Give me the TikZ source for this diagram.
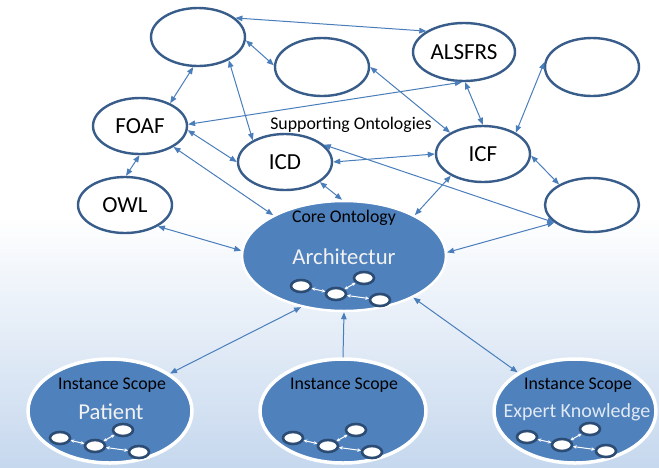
\documentclass[tikz,border=0pt]{standalone}
\usepackage{fontspec}
\setmainfont{Carlito}
\usetikzlibrary{shapes.geometric,arrows.meta,calc}
\definecolor{ontoBorder}{RGB}{56,93,138}
\definecolor{coreFill}{RGB}{79,129,189}
\definecolor{connCol}{RGB}{74,126,187}
\definecolor{miniBorder}{RGB}{44,76,116}
\definecolor{bgBottom}{RGB}{198,216,238}
\definecolor{lightText}{RGB}{242,242,242}
\definecolor{expertText}{RGB}{224,233,244}
\newcommand\mkMininet[3]{%
  \begin{scope}[shift={(#2,#3)}]
    \node[mini] (#1a) at (0,0) {};
    \node[mini] (#1b) at (35,8) {};
    \node[mini] (#1c) at (63,-8) {};
    \node[mini] (#1d) at (79,14) {};
    \draw[miniarr] (#1a) -- (#1b);
    \draw[miniarr] (#1b) -- (#1c);
    \draw[miniarr] (#1b) -- (#1d);
  \end{scope}}
\begin{document}
\begin{tikzpicture}[x=1pt,y=-1pt,
  onto/.style={ellipse, draw=ontoBorder, line width=2.4pt, fill=white, inner sep=0pt, font=\fontsize{23}{26}\selectfont},
  core/.style={ellipse, draw=white, line width=2.5pt, fill=coreFill, inner sep=0pt},
  inst/.style={ellipse, draw=white, line width=3.5pt, fill=coreFill, inner sep=0pt},
  conn/.style={draw=connCol, line width=1pt, {Triangle[length=7pt,width=5.5pt]}-{Triangle[length=7pt,width=5.5pt]}},
  connone/.style={draw=connCol, line width=1pt, -{Triangle[length=7pt,width=5.5pt]}},
  mini/.style={ellipse, draw=miniBorder, line width=2.6pt, fill=white, inner sep=0pt, minimum width=20pt, minimum height=12pt},
  miniarr/.style={draw=white, line width=1pt, {Stealth[length=3.5pt,width=3.5pt]}-{Stealth[length=3.5pt,width=3.5pt]}},
  smalltxt/.style={font=\fontsize{17.8}{20}\selectfont, text=black, inner sep=0pt},
  bigtxt/.style={font=\fontsize{22.7}{26}\selectfont, text=lightText, inner sep=0pt}
]
\useasboundingbox (0,0) rectangle (659,467);
\fill[white] (0,0) rectangle (659,467);
\shade[top color=white, bottom color=bgBottom] (0,215) rectangle (659,467);

% supporting ontologies
\node[onto, minimum width=94pt, minimum height=58pt] (blankA) at (198,37) {};
\node[onto, minimum width=94pt, minimum height=58pt] (blankB) at (322,67) {};
\node[onto, minimum width=102pt, minimum height=58pt] (als) at (464,52) {ALSFRS};
\node[onto, minimum width=94pt, minimum height=58pt] (blankTR) at (592,67) {};
\node[onto, minimum width=94pt, minimum height=56pt] (foaf) at (140,126) {FOAF};
\node[onto, minimum width=94pt, minimum height=56pt] (icd) at (285,162) {ICD};
\node[onto, minimum width=94pt, minimum height=56pt] (icf) at (483,154) {ICF};
\node[onto, minimum width=94pt, minimum height=56pt] (owl) at (125,205) {OWL};
\node[onto, minimum width=94pt, minimum height=54pt] (blankBR) at (592,205) {};

% core and instance scopes
\node[core, minimum width=204pt, minimum height=110pt] (core) at (344,256) {};
\node[inst, minimum width=164pt, minimum height=104pt] (scopeP) at (110,411) {};
\node[inst, minimum width=166pt, minimum height=104pt] (scopeM) at (343,411) {};
\node[inst, minimum width=162pt, minimum height=104pt] (scopeE) at (575,411) {};

% texts
\node[smalltxt] (supp) at (351,125) {Supporting Ontologies};
\node[smalltxt] (coreLbl) at (344,218) {Core Ontology};
\node[bigtxt] (arch) at (344,257) {Architectur};
\node[smalltxt] (lblP) at (112,385) {Instance Scope};
\node[bigtxt] (patient) at (111,412) {Patient};
\node[smalltxt] (lblM) at (344,385) {Instance Scope};
\node[smalltxt] (lblE) at (578,385) {Instance Scope};
\node[bigtxt, font=\fontsize{20}{24}\selectfont, text=expertText] (expert) at (577,412) {Expert Knowledge};

% mini networks
\mkMininet{k}{301}{286}
\mkMininet{p}{60}{438}
\mkMininet{m}{293}{438}
\mkMininet{e}{527}{437}

% connectors
\draw[conn] (blankA.27) -- (als.151);
\draw[conn] (blankA.261) -- (foaf.37);
\draw[conn] (blankA.-4) -- (blankB.178);
\draw[conn] (blankA.-37) -- (icd.146);
\draw[conn] (foaf.2) -- (als.-94);
\draw[conn] (foaf.-5) -- (icd.180);
\draw[conn] (foaf.-32) -- (core.150);
\draw[conn] (foaf.-91) -- (owl.88);
\draw[conn] (owl.-33) -- (core.177);
\draw[conn] (icd.-30) -- (core.92);
\draw[conn] (icd.0) -- (icf.180);
\draw[conn] (icd.24) -- (blankBR.205);
\draw[conn] (blankB.0) -- (icf.147);
\draw[conn] (als.-88) -- (icf.90);
\draw[conn] (blankTR.174) -- (icf.33);
\draw[conn] (icf.-2) -- (blankBR.148);
\draw[conn] (icf.214) -- (core.30);
\draw[conn] (core.2) -- (blankBR.205);
\draw[conn] (core.230) -- (scopeP.32);
\draw[connone] (scopeM.90) -- (core.-90);
\draw[conn] (core.-31) -- (scopeE.146);
\end{tikzpicture}
\end{document}
